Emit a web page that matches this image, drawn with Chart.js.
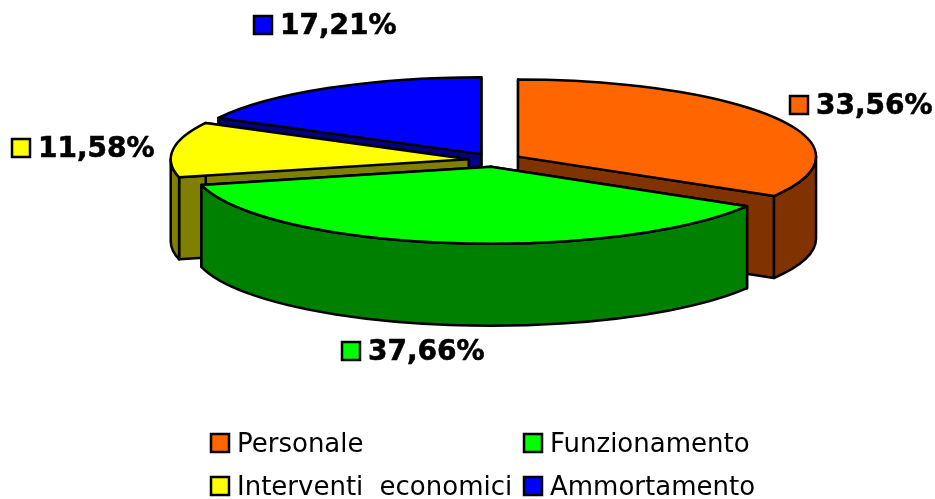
<!DOCTYPE html>
<html>
<head>
<meta charset="utf-8">
<style>
html, body { margin: 0; padding: 0; background: #fff; }
canvas { display: block; }
</style>
<script src="https://cdn.jsdelivr.net/npm/chart.js@4"></script>
</head>
<body>
<canvas id="myChart" width="935" height="499"></canvas>
<script>
var categories = ['Personale', 'Funzionamento', 'Interventi economici', 'Ammortamento'];
var shares = [33.56, 37.66, 11.58, 17.21];
var shareLabels = ['33,56%', '37,66%', '11,58%', '17,21%'];
var topColors = ['#FF6600', '#00FF00', '#FFFF00', '#0000FF'];
var sideColors = ['#803300', '#008000', '#808000', '#000080'];

// page layout of the text bits, top-left of the colour key
var shareSpots = [[790, 96], [342, 342], [12, 139], [254, 16]];
var legendSpots = [[211, 434], [524, 434], [211, 477], [524, 477]];

var squash = 77 / 298;
var depth = 82;
var explode = 26.5;

function drawKey(ctx, x, y, color) {
    ctx.fillStyle = color;
    ctx.strokeStyle = '#000';
    ctx.lineWidth = 2.5;
    ctx.fillRect(x, y, 18, 18);
    ctx.strokeRect(x, y, 18, 18);
}

function paint(ctx, color) {
    ctx.fillStyle = color;
    ctx.fill();
    ctx.stroke();
}

var pie3d = {
    id: 'pie3d',
    beforeDatasetsDraw: function(chart) {
        var ctx = chart.ctx;
        var arcs = chart.getDatasetMeta(0).data;
        var order = arcs.map(function(a, i) { return i; });
        function mid(i) { return (arcs[i].startAngle + arcs[i].endAngle) / 2; }
        order.sort(function(a, b) { return Math.sin(mid(a)) - Math.sin(mid(b)); });

        ctx.save();
        ctx.lineWidth = 2.5;
        ctx.lineJoin = 'round';
        ctx.strokeStyle = '#000';
        order.forEach(function(i) {
            var arc = arcs[i];
            var r = arc.outerRadius;
            var a0 = arc.startAngle;
            var a1 = arc.endAngle;
            var cx = arc.x + Math.cos(mid(i)) * explode;
            var cy = arc.y + Math.sin(mid(i)) * explode * squash;

            // cut faces
            [a0, a1].forEach(function(a) {
                var ex = cx + Math.cos(a) * r;
                var ey = cy + Math.sin(a) * r * squash;
                ctx.beginPath();
                ctx.moveTo(cx, cy);
                ctx.lineTo(ex, ey);
                ctx.lineTo(ex, ey + depth);
                ctx.lineTo(cx, cy + depth);
                ctx.closePath();
                paint(ctx, sideColors[i]);
            });

            // rim, only the part facing the viewer
            var from = Math.max(a0, 0);
            var to = Math.min(a1, Math.PI);
            if (to > from) {
                ctx.beginPath();
                ctx.ellipse(cx, cy, r, r * squash, 0, from, to);
                ctx.ellipse(cx, cy + depth, r, r * squash, 0, to, from, true);
                ctx.closePath();
                paint(ctx, sideColors[i]);
            }

            // top face, drawn by the arc element itself under the squash
            ctx.save();
            ctx.translate(cx, cy);
            ctx.scale(1, squash);
            ctx.translate(-arc.x, -arc.y);
            arc.draw(ctx);
            ctx.restore();

            // outline stroked after unsquashing so the line stays even
            ctx.beginPath();
            ctx.moveTo(cx, cy);
            ctx.ellipse(cx, cy, r, r * squash, 0, a0, a1);
            ctx.closePath();
            ctx.stroke();
        });
        ctx.restore();
        return false;
    },
    afterDraw: function(chart) {
        var ctx = chart.ctx;
        ctx.save();
        ctx.textBaseline = 'alphabetic';
        ctx.textAlign = 'left';
        shareLabels.forEach(function(text, i) {
            var spot = shareSpots[i];
            drawKey(ctx, spot[0], spot[1], topColors[i]);
            ctx.fillStyle = '#000';
            ctx.font = 'bold 28px "DejaVu Sans"';
            ctx.wordSpacing = '0px';
            ctx.fillText(text, spot[0] + 26, spot[1] + 18);
            // the original bold is a bit heavier
            ctx.lineWidth = 0.6;
            ctx.strokeText(text, spot[0] + 26, spot[1] + 18);
        });
        categories.forEach(function(text, i) {
            var spot = legendSpots[i];
            drawKey(ctx, spot[0], spot[1], topColors[i]);
            ctx.fillStyle = '#000';
            ctx.font = '26px "DejaVu Sans"';
            ctx.wordSpacing = '8px';
            ctx.fillText(text, spot[0] + 26, spot[1] + 18);
        });
        ctx.restore();
    }
};

var ctx = document.getElementById('myChart').getContext('2d');
var chart = new Chart(ctx, {
    type: 'pie',
    data: {
        labels: categories,
        datasets: [{
            data: shares,
            backgroundColor: topColors,
            borderWidth: 0
        }]
    },
    options: {
        responsive: false,
        animation: false,
        radius: 298,
        layout: { padding: { left: 55, right: 0, top: 0, bottom: 179 } },
        plugins: {
            legend: { display: false },
            tooltip: { enabled: false }
        }
    },
    plugins: [pie3d]
});
</script>
</body>
</html>
